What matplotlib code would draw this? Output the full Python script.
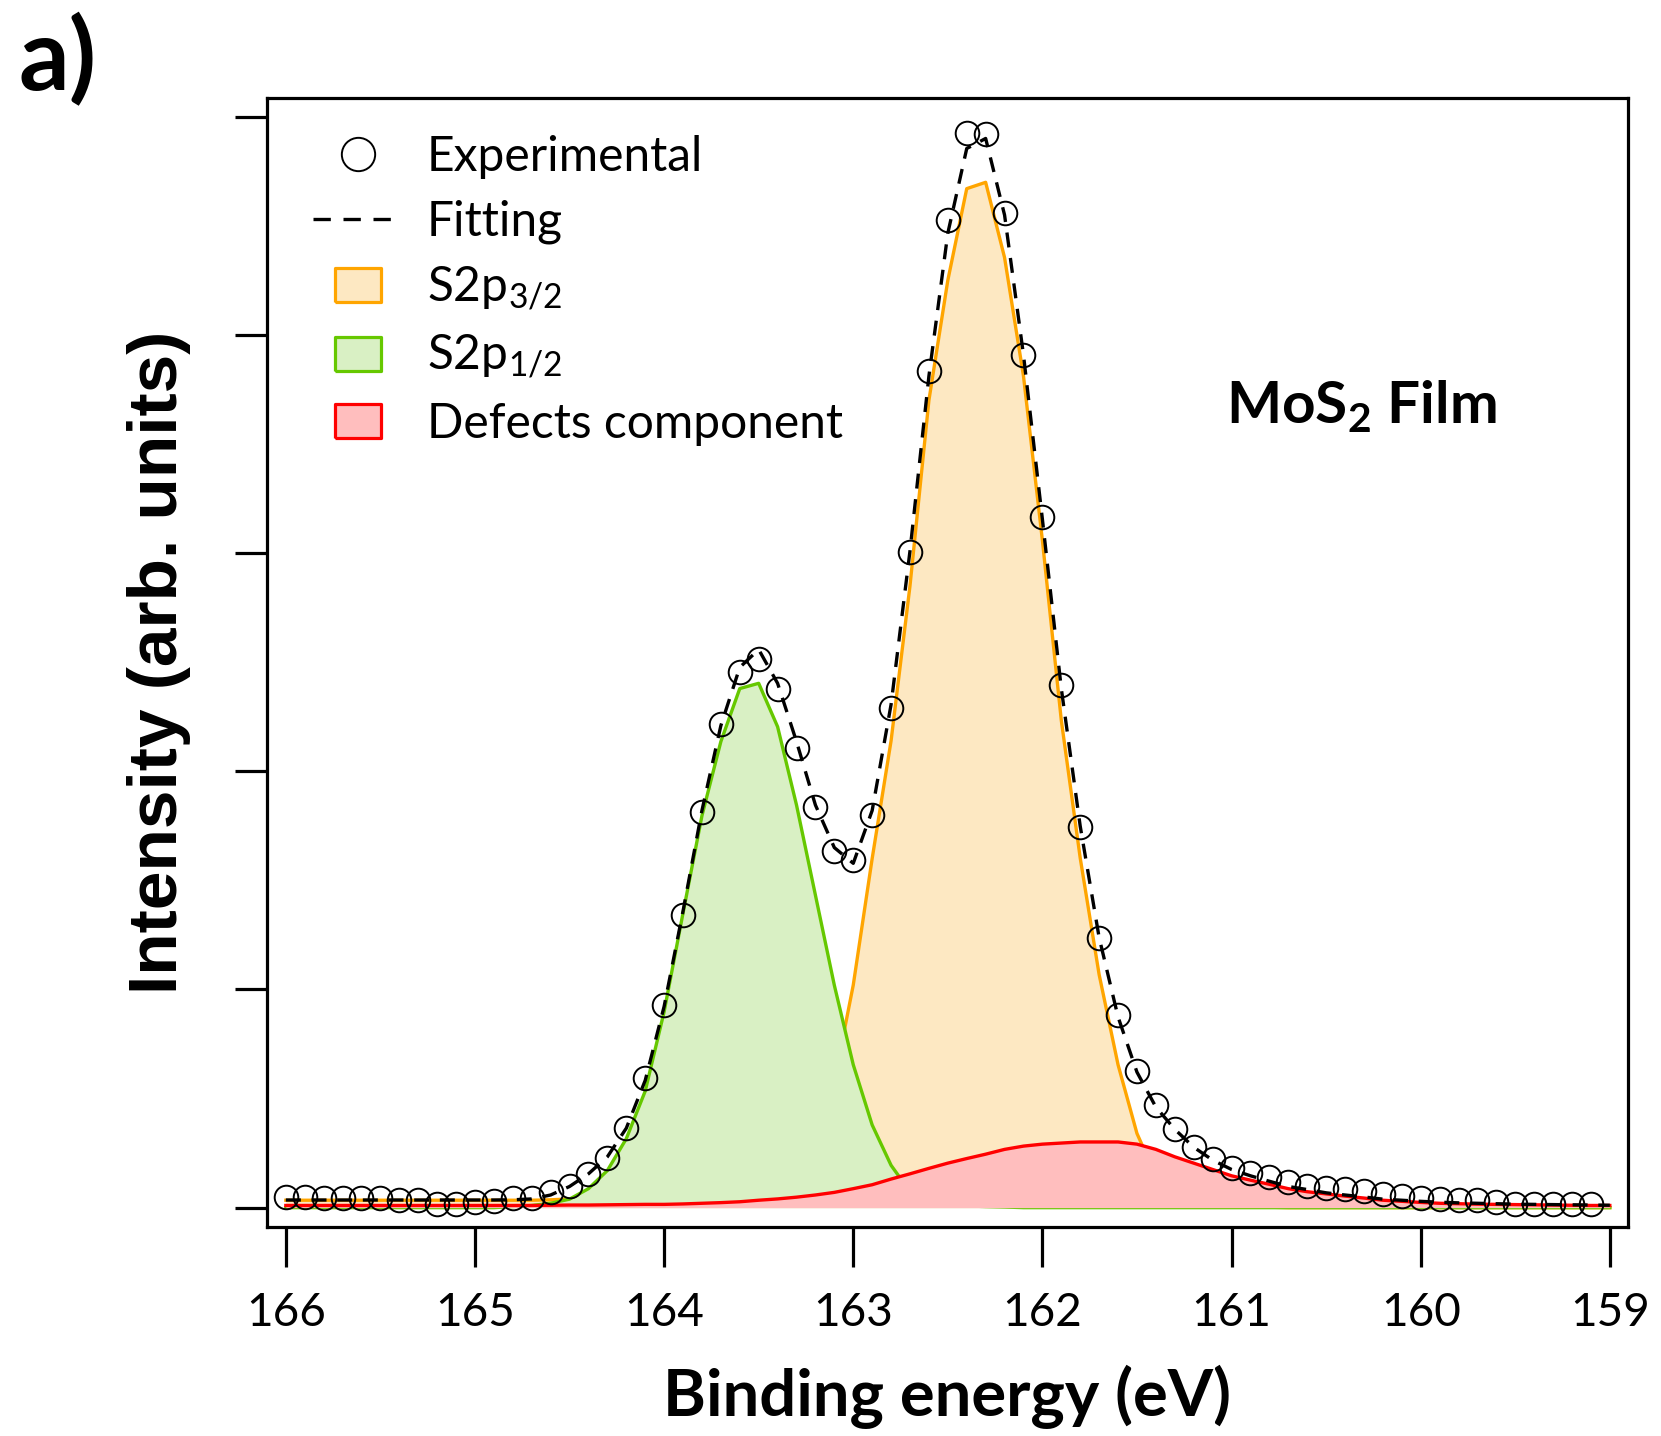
import numpy as np
import matplotlib
matplotlib.use("Agg")
import matplotlib.pyplot as plt
from matplotlib.lines import Line2D

plt.rcParams['font.family'] = ['Lato', 'DejaVu Sans']
plt.rcParams['mathtext.default'] = 'regular'

# binding energy grid (eV)
energy = [166.0, 165.9, 165.8, 165.7, 165.6, 165.5, 165.4, 165.3, 165.2, 165.1,
          165.0, 164.9, 164.8, 164.7, 164.6, 164.5, 164.4, 164.3, 164.2, 164.1,
          164.0, 163.9, 163.8, 163.7, 163.6, 163.5, 163.4, 163.3, 163.2, 163.1,
          163.0, 162.9, 162.8, 162.7, 162.6, 162.5, 162.4, 162.3, 162.2, 162.1,
          162.0, 161.9, 161.8, 161.7, 161.6, 161.5, 161.4, 161.3, 161.2, 161.1,
          161.0, 160.9, 160.8, 160.7, 160.6, 160.5, 160.4, 160.3, 160.2, 160.1,
          160.0, 159.9, 159.8, 159.7, 159.6, 159.5, 159.4, 159.3, 159.2, 159.1,
          159.0]

# experimental points (166.0 ... 159.1)
experimental = [0.049, 0.049, 0.044, 0.044, 0.044, 0.044, 0.034, 0.034, 0.019, 0.015,
                0.024, 0.029, 0.044, 0.044, 0.073, 0.097, 0.155, 0.228, 0.364, 0.592,
                0.927, 1.340, 1.811, 2.218, 2.456, 2.515, 2.379, 2.107, 1.835, 1.636,
                1.592, 1.801, 2.291, 3.005, 3.835, 4.524, 4.927, 4.922, 4.558, 3.908,
                3.165, 2.393, 1.743, 1.238, 0.883, 0.626, 0.471, 0.359, 0.277, 0.223,
                0.180, 0.160, 0.141, 0.117, 0.097, 0.092, 0.087, 0.078, 0.063, 0.053,
                0.044, 0.039, 0.034, 0.034, 0.024, 0.019, 0.019, 0.019, 0.019, 0.019]

fitting = [0.035, 0.035, 0.035, 0.035, 0.035, 0.035, 0.035, 0.035, 0.035, 0.035,
           0.035, 0.035, 0.036, 0.040, 0.058, 0.097, 0.155, 0.233, 0.364, 0.583,
           0.922, 1.359, 1.820, 2.209, 2.476, 2.558, 2.403, 2.136, 1.845, 1.650,
           1.578, 1.820, 2.306, 3.010, 3.811, 4.466, 4.854, 4.900, 4.549, 3.908,
           3.155, 2.379, 1.748, 1.238, 0.874, 0.621, 0.461, 0.359, 0.277, 0.218,
           0.175, 0.146, 0.121, 0.097, 0.083, 0.068, 0.058, 0.049, 0.039, 0.034,
           0.029, 0.025, 0.022, 0.020, 0.018, 0.016, 0.015, 0.014, 0.013, 0.012,
           0.011]

s2p32 = [0.034, 0.034, 0.034, 0.034, 0.034, 0.034, 0.034, 0.034, 0.034, 0.034,
         0.034, 0.034, 0.034, 0.034, 0.036, 0.040, 0.045, 0.050, 0.060, 0.070,
         0.080, 0.090, 0.100, 0.110, 0.115, 0.120, 0.146, 0.218, 0.364, 0.580,
         1.020, 1.600, 2.140, 2.850, 3.700, 4.250, 4.670, 4.699, 4.354, 3.811,
         3.058, 2.233, 1.602, 1.068, 0.655, 0.340, 0.146, 0.058, 0.029, 0.015,
         0.008, 0.004, 0.002, 0.0, 0.0, 0.0, 0.0, 0.0, 0.0, 0.0,
         0.0, 0.0, 0.0, 0.0, 0.0, 0.0, 0.0, 0.0, 0.0, 0.0,
         0.0]

s2p12 = [0.0, 0.0, 0.0, 0.0, 0.0, 0.0, 0.0, 0.0, 0.0, 0.0,
         0.0, 0.0, 0.005, 0.010, 0.020, 0.039, 0.087, 0.170, 0.316, 0.534,
         0.898, 1.350, 1.796, 2.136, 2.379, 2.403, 2.204, 1.845, 1.432, 1.019,
         0.655, 0.379, 0.194, 0.073, 0.030, 0.015, 0.008, 0.005, 0.003, 0.0,
         0.0, 0.0, 0.0, 0.0, 0.0, 0.0, 0.0, 0.0, 0.0, 0.0,
         0.0, 0.0, 0.0, 0.0, 0.0, 0.0, 0.0, 0.0, 0.0, 0.0,
         0.0, 0.0, 0.0, 0.0, 0.0, 0.0, 0.0, 0.0, 0.0, 0.0,
         0.0]

defects = [0.010, 0.010, 0.010, 0.010, 0.010, 0.010, 0.010, 0.010, 0.010, 0.010,
           0.010, 0.010, 0.010, 0.010, 0.011, 0.012, 0.012, 0.013, 0.014, 0.015,
           0.015, 0.017, 0.020, 0.023, 0.027, 0.034, 0.040, 0.048, 0.058, 0.070,
           0.087, 0.105, 0.131, 0.155, 0.180, 0.204, 0.225, 0.245, 0.267, 0.282,
           0.291, 0.296, 0.301, 0.301, 0.301, 0.291, 0.267, 0.233, 0.204, 0.175,
           0.146, 0.126, 0.107, 0.087, 0.073, 0.063, 0.053, 0.044, 0.034, 0.029,
           0.024, 0.020, 0.018, 0.016, 0.015, 0.014, 0.013, 0.012, 0.011, 0.010,
           0.010]

orange_edge, orange_fill = '#FFA500', '#FDE8C2'
green_edge, green_fill = '#66C800', '#D9F0C4'
red_edge, red_fill = '#FF0000', '#FFBEBE'

fig = plt.figure(figsize=(16.61, 14.36), dpi=100)
ax = fig.add_axes([0.1607, 0.1458, 0.8193, 0.7862])

ax.fill_between(energy, 0, s2p32, color=orange_fill, lw=0, zorder=1)
ax.plot(energy, s2p32, color=orange_edge, lw=2.4, zorder=1)
ax.fill_between(energy, 0, s2p12, color=green_fill, lw=0, zorder=2)
ax.plot(energy, s2p12, color=green_edge, lw=2.4, zorder=2)
ax.fill_between(energy, 0, defects, color=red_fill, lw=0, zorder=3)
ax.plot(energy, defects, color=red_edge, lw=2.4, zorder=3)

fit_line, = ax.plot(energy, fitting, color='black', lw=2.4, ls=(0, (4.5, 3.2)), zorder=4)
exp_pts, = ax.plot(energy[:len(experimental)], experimental, 'o', mfc='none', mec='black',
                   ms=17, mew=1.4, zorder=5)

ax.set_xlim(166.1, 158.905)
ax.set_ylim(-0.087, 5.087)
ax.set_xticks([166, 165, 164, 163, 162, 161, 160, 159])
ax.set_yticks([0, 1, 2, 3, 4, 5])
ax.set_yticklabels([])
for s in ax.spines.values():
    s.set_linewidth(2.3)
ax.tick_params(axis='x', direction='out', length=29, width=2.3, pad=18, labelsize=33)
ax.tick_params(axis='y', direction='out', length=23, width=2.3)

ax.set_xlabel('Binding energy (eV)', fontsize=47, fontweight='bold', labelpad=22)
ax.set_ylabel('Intensity (arb. units)', fontsize=50, fontweight='bold',
              family=['Liberation Sans', 'DejaVu Sans'], labelpad=28)

rect = [(-22, -16), (22, -16), (22, 16), (-22, 16), (-22, -16)]
handles = [
    Line2D([], [], ls='none', marker='o', mfc='none', mec='black', ms=24, mew=1.4),
    Line2D([], [], color='black', lw=2.4, ls=(0, (5.2, 3.8))),
    Line2D([], [], ls='none', marker=rect, mfc=orange_fill, mec=orange_edge, ms=33, mew=2.3),
    Line2D([], [], ls='none', marker=rect, mfc=green_fill, mec=green_edge, ms=33, mew=2.3),
    Line2D([], [], ls='none', marker=rect, mfc=red_fill, mec=red_edge, ms=33, mew=2.3),
]
labels = ['Experimental', 'Fitting', 'S2p$_{3/2}$', 'S2p$_{1/2}$', 'Defects component']
ax.legend(handles, labels, loc='upper left', bbox_to_anchor=(0.034, 0.967),
          frameon=False, fontsize=34.5, handlelength=1.85, handletextpad=0.52,
          labelspacing=0.43, borderaxespad=0, borderpad=0)

ax.text(0.705, 0.727, 'MoS$_2$ Film', transform=ax.transAxes, fontsize=42,
        fontweight='bold', va='center', ha='left')
fig.text(0.011, 0.958, 'a)', fontsize=72, fontweight='bold', va='center', ha='left')

fig.savefig('out.png', dpi=100)
